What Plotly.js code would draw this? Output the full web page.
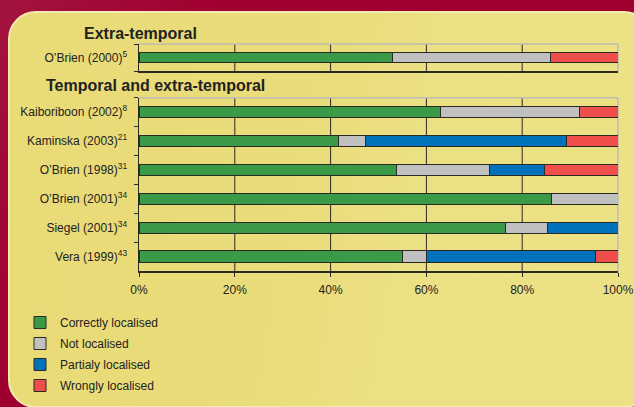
<!DOCTYPE html>
<html>
<head>
<meta charset="utf-8">
<script src="https://cdn.plot.ly/plotly-3.0.1.min.js"></script>
<style>
  html, body { margin: 0; padding: 0; }
  body { width: 634px; height: 407px; overflow: hidden; position: relative;
         background: linear-gradient(120deg, #a3133f 0%, #a0002f 25%, #a0002f 100%); }
  #panel { position: absolute; left: 8px; top: 11px; width: 640px; height: 393px;
           border: 2px solid #f3ebb0; border-radius: 28px;
           background: linear-gradient(100deg, #e9db76 0%, #e9dc7a 45%, #ece084 60%, #ede185 100%); }
  #chart { position: absolute; left: 0; top: 0; width: 634px; height: 407px; }
</style>
</head>
<body>
<div id="panel"></div>
<div id="chart"></div>
<script>
// ---- data ----
var categoriesTop = ['O\u2019Brien (2000)<sup>5</sup>'];
var categoriesBottom = [
  'Kaiboriboon (2002)<sup>8</sup>',
  'Kaminska (2003)<sup>21</sup>',
  'O\u2019Brien (1998)<sup>31</sup>',
  'O\u2019Brien (2001)<sup>34</sup>',
  'Siegel (2001)<sup>34</sup>',
  'Vera (1999)<sup>43</sup>'
];
var seriesNames = ['Correctly localised', 'Not localised', 'Partialy localised', 'Wrongly localised'];

var correctTop = [53];
var notTop     = [33];
var partialTop = [0];
var wrongTop   = [14];

var correctBottom = [63, 41.7, 53.7, 86.2, 76.5, 55.0];
var notBottom     = [28.9, 5.5, 19.4, 13.8, 8.7, 5.0];
var partialBottom = [0, 42.1, 11.5, 0, 14.8, 35.3];
var wrongBottom   = [8.1, 10.7, 15.4, 0, 0, 4.7];

var tickVals = [0, 20, 40, 60, 80, 100];
var tickText = ['0%', '20%', '40%', '60%', '80%', '100%'];
var gridVals = [20, 40, 60, 80];

var sectionTitles = ['Extra-temporal', 'Temporal and extra-temporal'];

// ---- styling ----
var colors = ['#3a9a48', '#c0c0c0', '#0072bc', '#f04e4a'];
var dark = '#2a2a22';
var fontFam = 'Liberation Sans, Arial, sans-serif';

var topSeries = [correctTop, notTop, partialTop, wrongTop];
var bottomSeries = [correctBottom, notBottom, partialBottom, wrongBottom];

var traces = [];
for (var i = 0; i < 4; i++) {
  traces.push({
    type: 'bar', orientation: 'h',
    x: topSeries[i], y: categoriesTop,
    xaxis: 'x2', yaxis: 'y2',
    name: seriesNames[i], legendgroup: 'g' + i, showlegend: false,
    marker: { color: colors[i], line: { color: dark, width: 1 } },
    hoverinfo: 'x+name'
  });
}
for (var j = 0; j < 4; j++) {
  traces.push({
    type: 'bar', orientation: 'h',
    x: bottomSeries[j], y: categoriesBottom,
    xaxis: 'x', yaxis: 'y',
    name: seriesNames[j], legendgroup: 'g' + j, showlegend: true,
    marker: { color: colors[j], line: { color: dark, width: 1 } },
    hoverinfo: 'x+name'
  });
}

var H = 407, L = 139, W = 479;
function px(x) { return (x - L) / W; }
function py(y) { return 1 - y / H; }

var shapes = [];
[['x', 'y'], ['x2', 'y2']].forEach(function (ax) {
  var xr = ax[0], yr = ax[1];
  gridVals.forEach(function (v) {
    shapes.push({ type: 'line', layer: 'below', xref: xr, yref: yr + ' domain',
      x0: v, x1: v, y0: 0, y1: 1, line: { color: dark, width: 1 } });
  });
  shapes.push({ type: 'line', layer: 'below', xref: xr + ' domain', yref: yr + ' domain',
    x0: 0, x1: 1, y0: 1, y1: 1, line: { color: '#bdbdb0', width: 1.5 } });
  shapes.push({ type: 'line', layer: 'below', xref: xr + ' domain', yref: yr + ' domain',
    x0: 1, x1: 1, y0: 0, y1: 1, line: { color: '#bdbdb0', width: 1.5 } });
});

var layout = {
  width: 634, height: 407,
  margin: { l: L, r: 634 - L - W, t: 0, b: 0 },
  paper_bgcolor: 'rgba(0,0,0,0)',
  plot_bgcolor: 'rgba(0,0,0,0)',
  barmode: 'stack',
  bargap: 0.61,
  font: { family: fontFam, size: 12, color: '#222' },
  showlegend: true,
  legend: {
    x: px(20), xanchor: 'left', y: py(308), yanchor: 'top',
    bgcolor: 'rgba(0,0,0,0)', borderwidth: 0,
    traceorder: 'grouped', tracegroupgap: 2,
    font: { family: fontFam, size: 12, color: '#222' }
  },
  xaxis: {
    domain: [0, 1], range: [0, 100], anchor: 'y',
    tickvals: tickVals, ticktext: tickText,
    showgrid: false, zeroline: false,
    showline: true, linecolor: dark, linewidth: 1.5,
    ticks: 'outside', ticklen: 4, tickcolor: dark, tickwidth: 1,
    ticklabelstandoff: 3,
    tickfont: { family: fontFam, size: 12, color: '#222' }
  },
  yaxis: {
    domain: [py(271), py(97.7)], anchor: 'x', type: 'category',
    autorange: 'reversed',
    showgrid: false, zeroline: false,
    showline: true, linecolor: dark, linewidth: 1.5,
    ticks: 'outside', tickson: 'boundaries', ticklen: 4, tickcolor: dark,
    ticklabelstandoff: 8,
    tickfont: { family: fontFam, size: 12, color: '#222' }
  },
  xaxis2: {
    domain: [0, 1], range: [0, 100], anchor: 'y2',
    tickvals: tickVals, showticklabels: false,
    showgrid: false, zeroline: false,
    showline: true, linecolor: dark, linewidth: 1.5,
    ticks: ''
  },
  yaxis2: {
    domain: [py(71), py(44)], anchor: 'x2', type: 'category',
    showgrid: false, zeroline: false,
    showline: true, linecolor: dark, linewidth: 1.5,
    ticks: 'outside', tickson: 'boundaries', ticklen: 4, tickcolor: dark,
    ticklabelstandoff: 8,
    tickfont: { family: fontFam, size: 12, color: '#222' }
  },
  shapes: shapes,
  annotations: [
    { xref: 'paper', yref: 'paper', x: px(82), y: py(33), xanchor: 'left', yanchor: 'middle',
      showarrow: false, text: '<b>' + sectionTitles[0] + '</b>',
      font: { family: fontFam, size: 16, color: '#222' } },
    { xref: 'paper', yref: 'paper', x: px(44), y: py(86), xanchor: 'left', yanchor: 'middle',
      showarrow: false, text: '<b>' + sectionTitles[1] + '</b>',
      font: { family: fontFam, size: 16, color: '#222' } }
  ]
};

Plotly.newPlot('chart', traces, layout, { displayModeBar: false, staticPlot: true });
</script>
</body>
</html>
